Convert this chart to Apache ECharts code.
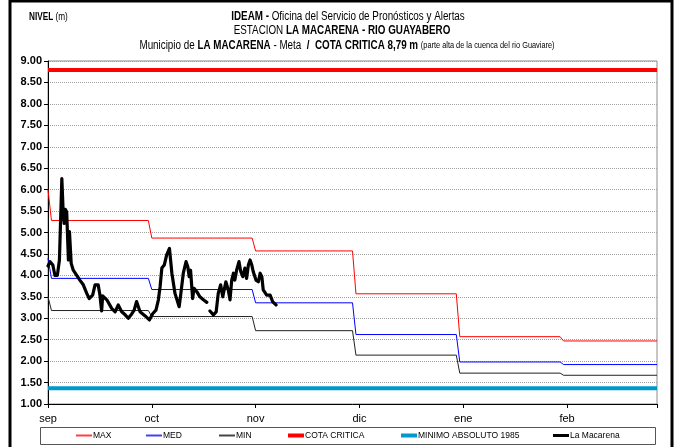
<!DOCTYPE html>
<html>
<head>
<meta charset="utf-8">
<script src="https://cdn.jsdelivr.net/npm/echarts@6/dist/echarts.min.js"></script>
<style>
  html, body { margin: 0; padding: 0; background: #fff; }
  #chart { width: 679px; height: 447px; }
</style>
</head>
<body>
<div id="chart"></div>
<script>
// Month tick labels along the day axis (one tick every 30 days)
const monthLabels = ['sep', 'oct', 'nov', 'dic', 'ene', 'feb'];
// First day of each monthly step, and last day of the axis
const monthStartDay = [1, 30, 60, 89, 119, 149];
const lastDay = 176;

// Historical monthly levels (m)
const maxFirst = 6.00;
const maxMonthly = [5.28, 4.87, 4.57, 3.57, 2.57, 2.47];
const medFirst = 4.40;
const medMonthly = [3.93, 3.67, 3.36, 2.62, 1.98, 1.92];
const minFirst = 3.50;
const minMonthly = [3.18, 3.04, 2.71, 2.14, 1.72, 1.67];

// Reference levels (m)
const cotaCritica = 8.79;
const minimoAbsoluto1985 = 1.37;

// Observed level at La Macarena: day offset from 1 sep, level in m ('-' = no reading)
const obsDay = [
  0, 0.6, 1.4, 1.7, 2.0, 2.7, 3.3, 4.0, 4.4, 4.7, 5.0, 5.4, 5.9, 6.2, 6.7, 7.3, 8.3, 9.2,
  10.2, 11.2, 11.9, 12.9, 13.6, 14.5, 15.0, 15.5, 15.8, 17.0, 18.4, 19.4, 20.3, 21.3, 22.3,
  23.2, 24.2, 24.9, 25.6, 26.6, 28.0, 29.3, 30.3, 31.2, 31.9, 32.4, 32.9, 33.6, 34.3, 35.1,
  35.8, 36.7, 37.9, 38.4, 39.1, 39.9, 40.4, 40.8, 41.2, 41.8, 42.2, 43.0, 43.9, 44.9, 45.9,
  46.3, 46.8, 47.8, 48.6, 49.2, 49.9, 50.5, 50.9, 51.4, 52.1, 52.6, 53.1, 53.6, 54.0, 54.5,
  55.2, 55.7, 56.3, 56.9, 57.4, 57.9, 58.4, 58.9, 59.3, 60.1, 60.8, 61.3, 61.8, 62.2, 63.2,
  64.2, 64.9, 65.3, 65.9
];
const obsLevel = [
  4.22, 4.32, 4.24, 4.12, 4.00, 4.00, 4.36, 6.26, 5.45, 5.21, 5.54, 5.48, 4.36, 5.02, 4.28, 4.12, 4.00, 3.89,
  3.78, 3.58, 3.46, 3.54, 3.78, 3.78, 3.54, 3.17, 3.52, 3.43, 3.23, 3.15, 3.31, 3.15, 3.08,
  3.00, 3.10, 3.19, 3.39, 3.15, 3.06, 2.96, 3.11, 3.19, 3.43, 3.74, 4.17, 4.24, 4.48, 4.63,
  4.05, 3.58, 3.27, 3.58, 4.05, 4.32, 4.20, 3.97, 4.12, 3.46, 3.70, 3.62, 3.50, 3.43, 3.37,
  '-', 3.17, 3.08, 3.15, 3.58, 3.78, 3.50, 3.66, 3.85, 3.66, 3.43, 3.89, 4.05, 3.89, 4.12,
  4.32, 4.09, 3.97, 4.17, 3.93, 4.24, 4.36, 4.24, 4.09, 3.89, 3.85, 4.05, 3.97, 3.66, 3.54,
  3.54, 3.39, 3.43, 3.31
];

// Build a stepped series: opening value on day 0, then one flat segment per month
function monthlySteps(first, monthly) {
  const pts = [[0, first]];
  monthly.forEach((v, i) => {
    const end = i + 1 < monthStartDay.length ? monthStartDay[i + 1] - 1 : lastDay;
    pts.push([monthStartDay[i], v]);
    pts.push([end, v]);
  });
  return pts;
}

const FONT = 'Liberation Sans, Arial, sans-serif';
const SQUEEZE = 0.82; // condensed look for the heading lines

const chart = echarts.init(document.getElementById('chart'), null, { renderer: 'canvas' });

function legendAt(name, left, color, thickness) {
  return {
    data: [{ name: name, icon: 'rect',
             itemStyle: { color: color, borderColor: color, borderWidth: 0, opacity: 1 } }],
    left: left,
    top: 431,
    padding: 0,
    itemWidth: 16,
    itemHeight: thickness,
    selectedMode: false,
    inactiveColor: color,
    textStyle: { fontFamily: FONT, fontSize: 8.5, color: '#000', padding: [0, 0, 0, -4] }
  };
}

function heading(x, y, text, size, align, rich) {
  return {
    type: 'text', x: x, y: y, scaleX: SQUEEZE, silent: true,
    style: {
      text: text, fontFamily: FONT, fontSize: size, fill: '#000',
      align: align, verticalAlign: 'middle', rich: rich
    }
  };
}

chart.setOption({
  animation: false,
  backgroundColor: '#fff',
  grid: {
    left: 48, right: 22, top: 61, bottom: 43,
    show: true, borderColor: '#8c8c8c', borderWidth: 1, backgroundColor: '#fff'
  },
  graphic: [
    { type: 'rect', shape: { x: 10, y: 1, width: 662, height: 460 },
      style: { fill: 'none', stroke: '#000', lineWidth: 3 }, silent: true, z: 100 },
    { type: 'rect', shape: { x: 40.5, y: 427.5, width: 615, height: 17 },
      style: { fill: 'none', stroke: '#555', lineWidth: 1 }, silent: true, z: 100 },
    heading(29, 17, '{b|NIVEL} (m)', 10, 'left',
      { b: { fontWeight: 'bold', fontFamily: FONT, fontSize: 10 } }),
    heading(348, 17, '{b|IDEAM -} Oficina del Servicio de Pronósticos y Alertas', 12, 'center',
      { b: { fontWeight: 'bold', fontFamily: FONT, fontSize: 12 } }),
    heading(342, 31, 'ESTACION {b|LA MACARENA - RIO GUAYABERO}', 12, 'center',
      { b: { fontWeight: 'bold', fontFamily: FONT, fontSize: 12 } }),
    heading(347, 46,
      'Municipio de {b|LA MACARENA} - Meta  {b|/}  {r|COTA CRITICA 8,79 m} {s|(parte alta de la cuenca del rio Guaviare)}',
      12, 'center', {
        b: { fontWeight: 'bold', fontFamily: FONT, fontSize: 12 },
        r: { fontWeight: 'bold', fontFamily: FONT, fontSize: 12, color: '#ff0000' },
        s: { fontFamily: FONT, fontSize: 9 }
      })
  ],
  legend: [
    legendAt('MAX', 76, '#ff4040', 2),
    legendAt('MED', 146, '#4040ff', 2),
    legendAt('MIN', 219, '#444', 2),
    legendAt('COTA CRITICA', 288, '#ff0000', 4),
    legendAt('MINIMO ABSOLUTO 1985', 401, '#0099cc', 4),
    legendAt('La Macarena', 553, '#000', 3)
  ],
  xAxis: {
    type: 'value', min: 0, max: lastDay, interval: 30,
    axisLine: { show: true, lineStyle: { color: '#000', width: 1 } },
    axisTick: { show: true, length: 4, lineStyle: { color: '#000' } },
    splitLine: { show: false },
    axisLabel: {
      fontFamily: FONT, fontSize: 11, color: '#000', margin: 9,
      formatter: v => monthLabels[Math.round(v / 30)] || ''
    }
  },
  yAxis: {
    type: 'value', min: 1, max: 9, interval: 0.5,
    axisLine: { show: true, lineStyle: { color: '#000', width: 1 } },
    axisTick: { show: true, length: 4, lineStyle: { color: '#000' } },
    splitLine: { show: true, lineStyle: { color: '#a0a0a0', type: [1, 1], width: 1 } },
    axisLabel: {
      fontFamily: FONT, fontSize: 11, fontWeight: 'bold', color: '#000', margin: 6,
      formatter: v => v.toFixed(2)
    }
  },
  series: [
    { name: 'MAX', type: 'line', symbol: 'none', data: monthlySteps(maxFirst, maxMonthly),
      lineStyle: { color: '#ff0000', width: 1 }, itemStyle: { color: '#ff0000' }, z: 3 },
    { name: 'MED', type: 'line', symbol: 'none', data: monthlySteps(medFirst, medMonthly),
      lineStyle: { color: '#0000ff', width: 1 }, itemStyle: { color: '#0000ff' }, z: 3 },
    { name: 'MIN', type: 'line', symbol: 'none', data: monthlySteps(minFirst, minMonthly),
      lineStyle: { color: '#222', width: 1 }, itemStyle: { color: '#222' }, z: 3 },
    { name: 'COTA CRITICA', type: 'line', symbol: 'none', data: [[0, cotaCritica], [lastDay, cotaCritica]],
      lineStyle: { color: '#ff0000', width: 4 }, itemStyle: { color: '#ff0000' }, z: 4 },
    { name: 'MINIMO ABSOLUTO 1985', type: 'line', symbol: 'none',
      data: [[0, minimoAbsoluto1985], [lastDay, minimoAbsoluto1985]],
      lineStyle: { color: '#0099cc', width: 4 }, itemStyle: { color: '#0099cc' }, z: 4 },
    { name: 'La Macarena', type: 'line', symbol: 'none', connectNulls: false,
      data: obsDay.map((d, i) => [d, obsLevel[i]]),
      lineStyle: { color: '#000', width: 3.2, join: 'round', cap: 'round' }, itemStyle: { color: '#000' }, z: 5 }
  ]
});
</script>
</body>
</html>
